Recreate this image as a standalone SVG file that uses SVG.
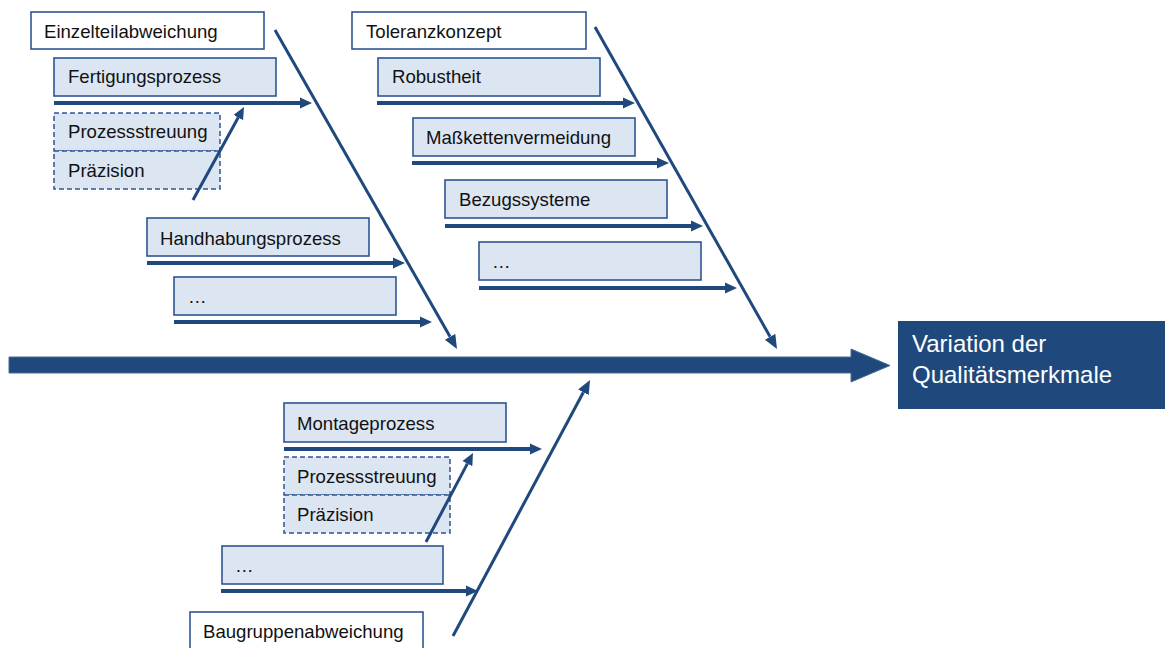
<svg xmlns="http://www.w3.org/2000/svg" width="1165" height="648" viewBox="0 0 1165 648">
<style>
text{font-family:"Liberation Sans",Arial,sans-serif;font-size:18.6px;fill:#111}
.wb{fill:#fff;stroke:#2f5590;stroke-width:1.6}
.lb{fill:#dce6f2;stroke:#2f5590;stroke-width:1.6}
.db{fill:#dce6f2;stroke:#2f5590;stroke-width:1.5;stroke-dasharray:5 3}
.h{stroke:#1f497d;stroke-width:4;fill:none;marker-end:url(#ah)}
.d{stroke:#1f497d;stroke-width:3;fill:none;marker-end:url(#ad)}
.ds{stroke:#1f497d;stroke-width:3;fill:none;marker-end:url(#as)}
.res{fill:#fff;font-size:24px}
</style>
<defs>
<marker id="ah" viewBox="0 -6 12 12" markerWidth="12" markerHeight="12" refX="0" refY="0" markerUnits="userSpaceOnUse" orient="auto"><path d="M0,-5.5 L12,0 L0,5.5 z" fill="#1f497d"/></marker>
<marker id="ad" viewBox="0 -7 15 14" markerWidth="15" markerHeight="14" refX="0" refY="0" markerUnits="userSpaceOnUse" orient="auto"><path d="M0,-6 L14,0 L0,6 z" fill="#1f497d"/></marker>
<marker id="as" viewBox="0 -7 13 14" markerWidth="13" markerHeight="14" refX="0" refY="0" markerUnits="userSpaceOnUse" orient="auto"><path d="M0,-5.5 L12,0 L0,5.5 z" fill="#1f497d"/></marker>
</defs>
<g id="spine"><path d="M9,357 L851,357 L851,349 L890,365.5 L851,382 L851,373 L9,373 z" fill="#1f497d" stroke="#4a6a98" stroke-width="1"/></g>
<g id="result"><rect x="898" y="321" width="267" height="88" fill="#1f497d"/><text class="res" x="912" y="352">Variation der</text><text class="res" x="912" y="383">Qualitätsmerkmale</text></g>
<g id="einzelteil"><rect class="wb" x="31" y="12" width="233" height="37"/><text x="44" y="38">Einzelteilabweichung</text></g>
<g id="fertigung"><rect class="lb" x="54" y="58" width="222" height="38"/><text x="68" y="83">Fertigungsprozess</text></g>
<g id="streuung1"><rect class="db" x="54" y="113" width="166" height="38"/><text x="68" y="138">Prozessstreuung</text></g>
<g id="praezision1"><rect class="db" x="54" y="151" width="166" height="38"/><text x="68" y="177">Präzision</text></g>
<g id="handhabung"><rect class="lb" x="147" y="218" width="222" height="38"/><text x="160" y="245">Handhabungsprozess</text></g>
<g id="etc1"><rect class="lb" x="174" y="277" width="222" height="38"/><text x="188" y="303">…</text></g>
<g id="toleranz"><rect class="wb" x="352" y="12" width="234" height="37"/><text x="366" y="38">Toleranzkonzept</text></g>
<g id="robust"><rect class="lb" x="378" y="58" width="222" height="38"/><text x="392" y="83">Robustheit</text></g>
<g id="masskette"><rect class="lb" x="413" y="118" width="222" height="38"/><text x="426" y="144">Maßkettenvermeidung</text></g>
<g id="bezug"><rect class="lb" x="445" y="180" width="222" height="38"/><text x="459" y="206">Bezugssysteme</text></g>
<g id="etc2"><rect class="lb" x="479" y="242" width="222" height="38"/><text x="492" y="268">…</text></g>
<g id="montage"><rect class="lb" x="284" y="403" width="222" height="39"/><text x="297" y="430">Montageprozess</text></g>
<g id="streuung2"><rect class="db" x="284" y="457" width="166" height="38"/><text x="297" y="483">Prozessstreuung</text></g>
<g id="praezision2"><rect class="db" x="284" y="495" width="166" height="38"/><text x="297" y="521">Präzision</text></g>
<g id="etc3"><rect class="lb" x="222" y="546" width="221" height="38"/><text x="235" y="572">…</text></g>
<g id="baugruppe"><rect class="wb" x="190" y="612" width="233" height="40"/><text x="203" y="638">Baugruppenabweichung</text></g>
<g id="connectors">
<line class="h" x1="54" y1="103" x2="300" y2="103"/>
<line class="h" x1="147" y1="263" x2="393" y2="263"/>
<line class="h" x1="174" y1="322" x2="420" y2="322"/>
<line class="h" x1="377" y1="103" x2="623" y2="103"/>
<line class="h" x1="412" y1="163" x2="657" y2="163"/>
<line class="h" x1="445" y1="226" x2="691" y2="226"/>
<line class="h" x1="479" y1="288" x2="725" y2="288"/>
<line class="h" x1="284" y1="449" x2="530" y2="449"/>
<line class="h" x1="221" y1="591" x2="466" y2="591"/>
<line class="d" x1="275" y1="30" x2="450.06" y2="336.84"/>
<line class="d" x1="595" y1="27" x2="770.11" y2="336.81"/>
<line class="d" x1="453" y1="636" x2="583.4" y2="392.3"/>
<line class="ds" x1="193" y1="200" x2="238.23" y2="117.52"/>
<line class="ds" x1="426" y1="542" x2="467.4" y2="463.6"/>
</g>
</svg>
